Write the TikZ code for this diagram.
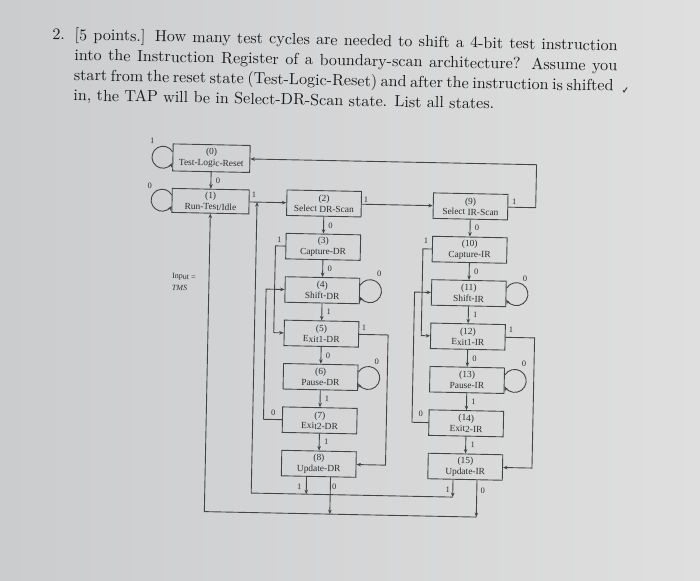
\documentclass[tikz,border=0pt]{standalone}
\usepackage{fontspec}
\newfontfamily\diafont{Liberation Serif}
\usetikzlibrary{arrows.meta}
\definecolor{bgA}{HTML}{CBCCCE}
\definecolor{bgB}{HTML}{DFDFDF}
\definecolor{linec}{HTML}{454545}
\definecolor{txtc}{HTML}{2E2E2E}
\definecolor{qtc}{HTML}{1C1C1C}
\tikzset{
  st/.style={draw=linec, line width=0.9pt, minimum width=74.5pt, minimum height=25.5pt, inner sep=1pt, align=center, text=txtc, font=\diafont\fontsize{9.4}{11}\selectfont},
  ar/.style={draw=linec, line width=0.9pt, -{Stealth[length=4.5pt,width=3.6pt]}},
  lb/.style={text=txtc, inner sep=0pt, font=\diafont\fontsize{8.4}{9}\selectfont},
  qt/.style={text=qtc, inner sep=0pt, anchor=base west, scale=1.61, font=\fontsize{10}{12}\selectfont},
}
\begin{document}
\begin{tikzpicture}[x=1pt,y=-1pt]
\useasboundingbox (0,0) rectangle (700,580);
\shade[left color=bgA, right color=bgB] (0,0) rectangle (700,580);
\begin{scope}[transform canvas={rotate around={-1.15:(350,330)}}]
% question text
\node[qt] (q0) at (46.2,45.5) {2.};
\node[qt] (q1) at (68.6,45.5) {\hbox to 337.3pt{[5 points.] How many test cycles are needed to shift a 4-bit test instruction}};
\node[qt] (q2) at (68.6,65.7) {\hbox to 337.3pt{into the Instruction Register of a boundary-scan architecture? Assume you}};
\node[qt] (q3) at (68.6,85.9) {\hbox to 334pt{start from the reset state (Test-Logic-Reset) and after the instruction is shifted}};
\node[qt] (q4) at (68.6,106.1) {in, the TAP will be in Select-DR-Scan state. List all states.};
\draw[line width=1pt, qtc!85] (618.3,85) -- (619.2,86.5) -- (622.2,82);
% states
\node[st, minimum width=77pt, minimum height=27pt] (b0) at (208,161) {(0)\\Test-Logic-Reset};
\node[st, minimum width=77pt, minimum height=24pt] (b1) at (208,204) {(1)\\Run-Test/Idle};
\node[st] (b2) at (321.5,204) {(2)\\Select DR-Scan};
\node[st] (b3) at (321.5,247.4) {(3)\\Capture-DR};
\node[st] (b4) at (321.5,290.8) {(4)\\Shift-DR};
\node[st] (b5) at (321.5,334.2) {(5)\\Exit1-DR};
\node[st] (b6) at (321.5,377.6) {(6)\\Pause-DR};
\node[st] (b7) at (321.5,421) {(7)\\Exit2-DR};
\node[st] (b8) at (321.5,464.4) {(8)\\Update-DR};
\node[st] (b9) at (468,204) {(9)\\Select IR-Scan};
\node[st] (b10) at (468,247.4) {(10)\\Capture-IR};
\node[st] (b11) at (468,290.8) {(11)\\Shift-IR};
\node[st] (b12) at (468,334.2) {(12)\\Exit1-IR};
\node[st] (b13) at (468,377.6) {(13)\\Pause-IR};
\node[st] (b14) at (468,421) {(14)\\Exit2-IR};
\node[st] (b15) at (468,464.4) {(15)\\Update-IR};
% main connectors
\draw[ar] (b0) -- (b1);
\draw[ar] (b1) -- (b2);
\draw[ar] (b2) -- (b9);
\draw[ar] (b9.east) -- ++(27.5,0) |- (b0.east);
\draw[ar] (b2) -- (b3);
\draw[ar] (b3) -- (b4);
\draw[ar] (b4) -- (b5);
\draw[ar] (b5) -- (b6);
\draw[ar] (b6) -- (b7);
\draw[ar] (b7) -- (b8);
\draw[ar] (b9) -- (b10);
\draw[ar] (b10) -- (b11);
\draw[ar] (b11) -- (b12);
\draw[ar] (b12) -- (b13);
\draw[ar] (b13) -- (b14);
\draw[ar] (b14) -- (b15);
% side connectors
\draw[ar] (b3.west) -- ++(-10,0) |- (b5.west);
\draw[ar] (b7.west) -- ++(-18.5,0) |- (b4.west);
\draw[ar] (b5.east) -- ++(29,0) |- (b8.east);
\draw[ar] (b10.west) -- ++(-9,0) |- (b12.west);
\draw[ar] (b14.west) -- ++(-16.5,0) |- (b11.west);
\draw[ar] (b12.east) -- ++(29,0) |- (b15.east);
% self loops
\draw[ar] ([yshift=5.55pt]b0.west) arc[start angle=30.3, end angle=329.7, radius=11pt];
\draw[ar] ([yshift=5.55pt]b1.west) arc[start angle=30.3, end angle=329.7, radius=11pt];
\draw[ar] ([yshift=5.68pt]b4.east) arc[start angle=150.4, end angle=-150.4, radius=11.5pt];
\draw[ar] ([yshift=5.68pt]b6.east) arc[start angle=150.4, end angle=-150.4, radius=11.5pt];
\draw[ar] ([yshift=5.68pt]b11.east) arc[start angle=150.4, end angle=-150.4, radius=11.5pt];
\draw[ar] ([yshift=5.68pt]b13.east) arc[start angle=150.4, end angle=-150.4, radius=11.5pt];
% return paths from update states
\coordinate (j1) at (254.5,204);
\coordinate (r1) at (0,495);
\coordinate (r0) at (0,514.5);
\coordinate (u8a) at ([xshift=-12pt]b8.south);
\coordinate (u8b) at ([xshift=12pt]b8.south);
\coordinate (u15a) at ([xshift=-12pt]b15.south);
\coordinate (u15b) at ([xshift=12pt]b15.south);
\draw[ar] (u8a) -- (u8a |- r1);
\draw[ar] (u8b) -- (u8b |- r0);
\draw[ar] (u15a) -- (u15a |- r1);
\draw[ar] (u15b) -- (u15b |- r0);
\draw[ar] (u15a |- r1) -| (j1);
\draw[ar] (u15b |- r0) -| (b1.south);
% labels
\node[lb] (t01) at (215,183) {0};
\node[lb] (tl0) at (148.5,145) {1};
\node[lb] (tl1) at (147,190) {0};
\node[lb] (t12) at (251.3,197) {1};
\node[lb] (t29) at (363.4,199) {1};
\node[lb] (t90) at (511.7,198.4) {1};
\node[lb] (t23) at (328.5,225.7) {0};
\node[lb] (t34) at (328.5,269.1) {0};
\node[lb] (t45) at (328.5,312.5) {1};
\node[lb] (t56) at (328.5,355.9) {0};
\node[lb] (t67) at (328.5,399.3) {1};
\node[lb] (t78) at (328.5,442.7) {1};
\node[lb] (t910) at (475,225.7) {0};
\node[lb] (t1011) at (475,269.1) {0};
\node[lb] (t1112) at (475,312.5) {1};
\node[lb] (t1213) at (475,355.9) {0};
\node[lb] (t1314) at (475,399.3) {1};
\node[lb] (t1415) at (475,442.7) {1};
\node[lb] (t35) at (277.5,241.4) {1};
\node[lb] (t44) at (378.2,273.7) {0};
\node[lb] (t58) at (364,327.4) {1};
\node[lb] (t66) at (377.3,361.2) {0};
\node[lb] (t74) at (275,414.2) {0};
\node[lb] (t82) at (302.4,487.7) {1};
\node[lb] (t81) at (337.5,487.5) {0};
\node[lb] (t1012) at (424.2,239.2) {1};
\node[lb] (t1111) at (524,274.8) {0};
\node[lb] (t1215) at (511,326.8) {1};
\node[lb] (t1313) at (524.7,359.8) {0};
\node[lb] (t1411) at (422.4,412.6) {0};
\node[lb] (t152) at (450.9,487.3) {1};
\node[lb] (t151) at (486,488) {0};
\node[lb, anchor=west, font=\diafont\fontsize{8}{9}\selectfont] (inp) at (171,280.6) {Input =};
\node[lb, anchor=west, font=\diafont\itshape\fontsize{8}{9}\selectfont] (tms) at (171,291.6) {TMS};
\end{scope}
\end{tikzpicture}
\end{document}
